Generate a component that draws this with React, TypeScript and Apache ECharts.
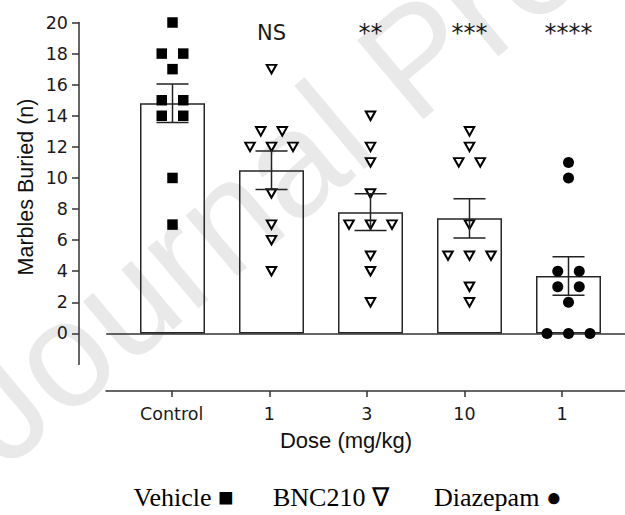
import React, { useEffect, useRef } from "react";
import * as echarts from "echarts";

// ---------- data ----------
const categories = ["Control", "1", "3", "10", "1"];
const vehicleControl = [20, 18, 18, 17, 15, 15, 14, 14, 10, 7];
const bnc210Dose1 = [17, 13, 13, 12, 12, 12, 9, 7, 6, 4];
const bnc210Dose3 = [14, 12, 11, 9, 7, 7, 7, 5, 4, 2];
const bnc210Dose10 = [13, 12, 11, 11, 7, 5, 5, 5, 3, 2];
const diazepamDose1 = [11, 10, 4, 4, 3, 3, 2, 0, 0, 0];
const significance = ["", "NS", "**", "***", "****"];
const yTicks = [0, 2, 4, 6, 8, 10, 12, 14, 16, 18, 20];
const legendItems = ["Vehicle ■", "BNC210 ∇", "Diazepam ●"];
const xAxisTitle = "Dose (mg/kg)";
const yAxisTitle = "Marbles Buried (n)";
const watermarkText = "Journal Pre-proof";

// ---------- layout ----------
const W = 625;
const H = 515;
const Y_MIN = -2;
const Y_MAX = 20;
const axisX = 79;
const plotTop = 22.5;
const plotBottom = 364.5;
const barX0 = 172.5;
const barStep = 99;
const baselineLeft = 106.7;
const xAxisY = 391;
const xAxisLeft = 106;
const tickX0 = 171.7;
const tickStep = 97.6;
const jitterPx = 21.5;
const capHalf = 16;
const pxPerUnit = (plotBottom - plotTop) / (Y_MAX - Y_MIN);
const zeroY = plotTop + Y_MAX * pxPerUnit;
const legendX = [133.5, 273, 434];

const INK = "#1a1a1a";
const FONT_SANS = "DejaVu Sans";
const FONT_ARIAL = "Liberation Sans";
const FONT_SERIF = "Liberation Serif";

const groups = [
  { values: vehicleControl, symbol: "rect" },
  { values: bnc210Dose1, symbol: "triangle" },
  { values: bnc210Dose3, symbol: "triangle" },
  { values: bnc210Dose10, symbol: "triangle" },
  { values: diazepamDose1, symbol: "circle" },
];

function mean(a: number[]) {
  return a.reduce((s, v) => s + v, 0) / a.length;
}
function sem(a: number[]) {
  const m = mean(a);
  const v = a.reduce((s, x) => s + (x - m) * (x - m), 0) / (a.length - 1);
  return Math.sqrt(v) / Math.sqrt(a.length);
}
// spread identical values side by side
function swarm(values: number[], idx: number) {
  const counts: Record<number, number> = {};
  values.forEach((v) => (counts[v] = (counts[v] || 0) + 1));
  const seen: Record<number, number> = {};
  const step = jitterPx / barStep;
  return values.map((v) => {
    const n = counts[v];
    const k = seen[v] || 0;
    seen[v] = k + 1;
    return [idx + (k - (n - 1) / 2) * step, v];
  });
}

export default function App() {
  const ref = useRef<HTMLDivElement>(null);
  useEffect(() => {
    if (!ref.current) return;
    const chart = echarts.init(ref.current, null, { renderer: "svg" });

    const means = groups.map((g) => mean(g.values));
    const sems = groups.map((g) => sem(g.values));
    const idxs = [0, 1, 2, 3, 4];

    const scatterSeries = groups.map((g, i) => {
      const isTri = g.symbol === "triangle";
      return {
        type: "scatter",
        xAxisIndex: 0,
        yAxisIndex: 0,
        symbol: g.symbol,
        symbolRotate: isTri ? 180 : 0,
        symbolSize: isTri ? [9.5, 8.5] : g.symbol === "rect" ? 10.5 : 11,
        itemStyle: isTri
          ? { color: "#fff", borderColor: "#000", borderWidth: 2, opacity: 1 }
          : { color: "#000", opacity: 1 },
        data: swarm(g.values, i),
        z: 3,
        silent: true,
      };
    });

    const sigY = (zeroY - 33) / pxPerUnit;

    chart.setOption({
      animation: false,
      grid: [
        { left: axisX, top: plotTop, width: W - axisX, height: plotBottom - plotTop },
        { left: xAxisLeft, top: xAxisY - 1, width: W - xAxisLeft, height: 1 },
        { left: baselineLeft, top: zeroY - 1, width: W - baselineLeft, height: 1 },
      ],
      xAxis: [
        {
          gridIndex: 0,
          type: "value",
          min: -(barX0 - axisX) / barStep,
          max: (W - barX0) / barStep,
          show: false,
        },
        {
          gridIndex: 1,
          type: "value",
          min: -(tickX0 - xAxisLeft) / tickStep,
          max: (W - tickX0) / tickStep,
          axisLine: { show: true, onZero: false, lineStyle: { color: "#333", width: 1.5 } },
          axisTick: {
            show: true,
            customValues: idxs,
            length: 6,
            lineStyle: { color: "#333", width: 1.5 },
          },
          axisLabel: {
            show: true,
            customValues: idxs,
            formatter: (v: number) => categories[Math.round(v)],
            margin: 14,
            fontSize: 17.5,
            fontFamily: FONT_SANS,
            color: INK,
          },
          splitLine: { show: false },
        },
        {
          gridIndex: 2,
          type: "value",
          min: 0,
          max: 1,
          axisLine: { show: true, onZero: false, lineStyle: { color: "#333", width: 1.5 } },
          axisTick: { show: false },
          axisLabel: { show: false },
          splitLine: { show: false },
        },
      ],
      yAxis: [
        {
          gridIndex: 0,
          type: "value",
          min: Y_MIN,
          max: Y_MAX,
          interval: 2,
          axisLine: { show: true, onZero: false, lineStyle: { color: "#333", width: 1.5 } },
          axisTick: {
            show: true,
            customValues: yTicks,
            length: 7,
            lineStyle: { color: "#333", width: 1.5 },
          },
          axisLabel: {
            show: true,
            customValues: yTicks,
            margin: 11,
            fontSize: 17.5,
            fontFamily: FONT_SANS,
            color: INK,
          },
          splitLine: { show: false },
        },
        { gridIndex: 1, type: "value", show: false },
        { gridIndex: 2, type: "value", show: false },
      ],
      graphic: [
        {
          type: "text",
          x: 20,
          y: 488,
          rotation: (40 * Math.PI) / 180,
          z: -10,
          silent: true,
          style: {
            text: watermarkText,
            fontSize: 150,
            fontFamily: FONT_ARIAL,
            fill: "#e9e9e9",
            align: "left",
            verticalAlign: "bottom",
          },
        },
        {
          type: "text",
          x: 346,
          y: 440,
          style: {
            text: xAxisTitle,
            fontSize: 22,
            fontFamily: FONT_ARIAL,
            fill: "#111",
            align: "center",
            verticalAlign: "middle",
          },
        },
        {
          type: "text",
          x: 26,
          y: 187,
          rotation: Math.PI / 2,
          style: {
            text: yAxisTitle,
            fontSize: 21.5,
            fontFamily: FONT_ARIAL,
            fill: "#111",
            align: "center",
            verticalAlign: "middle",
          },
        },
        ...legendItems.map((t, i) => ({
          type: "text",
          x: legendX[i],
          y: 497,
          style: {
            text: t,
            fontSize: 26,
            fontFamily: FONT_SERIF,
            fill: "#000",
            align: "left",
            verticalAlign: "middle",
          },
        })),
      ],
      series: [
        {
          type: "bar",
          xAxisIndex: 0,
          yAxisIndex: 0,
          barWidth: 65,
          data: means.map((m, i) => [i, m]),
          itemStyle: { color: "rgba(255,255,255,0)", borderColor: "#262626", borderWidth: 1.5 },
          z: 2,
          silent: true,
        },
        ...scatterSeries,
        {
          type: "custom",
          xAxisIndex: 0,
          yAxisIndex: 0,
          z: 4,
          silent: true,
          data: means.map((m, i) => [i, m - sems[i], m + sems[i]]),
          renderItem: (params: any, api: any) => {
            const x = api.value(0);
            const lo = api.coord([x, api.value(1)]);
            const hi = api.coord([x, api.value(2)]);
            const style = { stroke: "#222", lineWidth: 1.5 };
            return {
              type: "group",
              children: [
                { type: "line", shape: { x1: lo[0], y1: lo[1], x2: hi[0], y2: hi[1] }, style },
                { type: "line", shape: { x1: lo[0] - capHalf, y1: lo[1], x2: lo[0] + capHalf, y2: lo[1] }, style },
                { type: "line", shape: { x1: hi[0] - capHalf, y1: hi[1], x2: hi[0] + capHalf, y2: hi[1] }, style },
              ],
            };
          },
        },
        {
          type: "scatter",
          xAxisIndex: 0,
          yAxisIndex: 0,
          symbolSize: 0,
          silent: true,
          data: significance
            .map((s, i) => ({ s, i }))
            .filter((d) => d.s)
            .map((d) => ({
              value: [d.i, sigY],
              label: {
                show: true,
                position: "inside",
                formatter: d.s,
                fontSize: d.s === "NS" ? 21 : 24,
                fontFamily: FONT_SANS,
                color: INK,
                opacity: 1,
              },
            })),
        },
      ],
    });
    return () => chart.dispose();
  }, []);
  return (
    <div
      ref={ref}
      style={{ position: "absolute", left: 0, top: 0, width: W, height: H }}
    />
  );
}
